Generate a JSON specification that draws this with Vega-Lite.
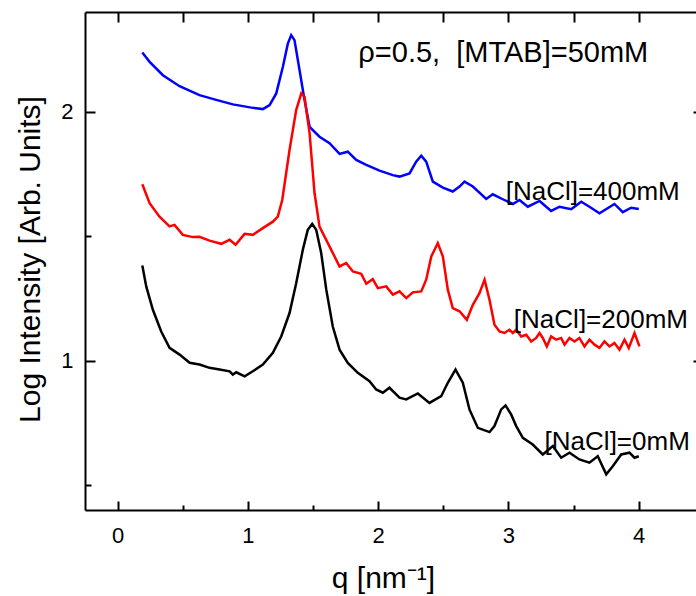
{
  "$schema": "https://vega.github.io/schema/vega-lite/v6.json",
  "width": 611,
  "height": 498,
  "autosize": "none",
  "padding": {"left": 85, "top": 12, "right": 0, "bottom": 86},
  "background": "white",
  "config": {
    "view": {"stroke": null},
    "axis": {
      "grid": false,
      "domainColor": "black",
      "domainWidth": 2,
      "tickColor": "black",
      "tickWidth": 2,
      "labelFont": "Liberation Sans",
      "labelFontSize": 22,
      "labelColor": "black",
      "titleFont": "Liberation Sans",
      "titleFontSize": 30,
      "titleFontWeight": "normal",
      "titleColor": "black"
    }
  },
  "datasets": {
    "curves": [
      {"s":"400","q":0.19,"I":2.237},{"s":"400","q":0.246,"I":2.2},{"s":"400","q":0.348,"I":2.146},{"s":"400","q":0.476,"I":2.102},{"s":"400","q":0.629,"I":2.066},{"s":"400","q":0.757,"I":2.047},{"s":"400","q":0.885,"I":2.029},{"s":"400","q":0.962,"I":2.022},{"s":"400","q":1.038,"I":2.015},{"s":"400","q":1.115,"I":2.01},{"s":"400","q":1.167,"I":2.026},{"s":"400","q":1.218,"I":2.073},{"s":"400","q":1.269,"I":2.18},{"s":"400","q":1.307,"I":2.273},{"s":"400","q":1.333,"I":2.307},{"s":"400","q":1.358,"I":2.287},{"s":"400","q":1.397,"I":2.166},{"s":"400","q":1.435,"I":2.047},{"s":"400","q":1.474,"I":1.939},{"s":"400","q":1.55,"I":1.899},{"s":"400","q":1.627,"I":1.873},{"s":"400","q":1.704,"I":1.83},{"s":"400","q":1.767,"I":1.839},{"s":"400","q":1.832,"I":1.806},{"s":"400","q":1.909,"I":1.786},{"s":"400","q":2.011,"I":1.763},{"s":"400","q":2.113,"I":1.745},{"s":"400","q":2.164,"I":1.739},{"s":"400","q":2.241,"I":1.752},{"s":"400","q":2.292,"I":1.799},{"s":"400","q":2.331,"I":1.823},{"s":"400","q":2.369,"I":1.799},{"s":"400","q":2.42,"I":1.719},{"s":"400","q":2.497,"I":1.695},{"s":"400","q":2.573,"I":1.679},{"s":"400","q":2.625,"I":1.699},{"s":"400","q":2.663,"I":1.719},{"s":"400","q":2.727,"I":1.699},{"s":"400","q":2.83,"I":1.649},{"s":"400","q":2.88,"I":1.668},{"s":"400","q":2.957,"I":1.648},{"s":"400","q":3.034,"I":1.629},{"s":"400","q":3.085,"I":1.645},{"s":"400","q":3.149,"I":1.618},{"s":"400","q":3.239,"I":1.641},{"s":"400","q":3.328,"I":1.601},{"s":"400","q":3.392,"I":1.618},{"s":"400","q":3.482,"I":1.608},{"s":"400","q":3.559,"I":1.638},{"s":"400","q":3.622,"I":1.618},{"s":"400","q":3.699,"I":1.592},{"s":"400","q":3.814,"I":1.629},{"s":"400","q":3.878,"I":1.596},{"s":"400","q":3.942,"I":1.614},{"s":"400","q":4.001,"I":1.609},
      {"s":"200","q":0.19,"I":1.708},{"s":"200","q":0.246,"I":1.632},{"s":"200","q":0.322,"I":1.578},{"s":"200","q":0.399,"I":1.539},{"s":"200","q":0.437,"I":1.545},{"s":"200","q":0.501,"I":1.505},{"s":"200","q":0.578,"I":1.496},{"s":"200","q":0.629,"I":1.497},{"s":"200","q":0.706,"I":1.482},{"s":"200","q":0.796,"I":1.469},{"s":"200","q":0.86,"I":1.485},{"s":"200","q":0.906,"I":1.465},{"s":"200","q":0.975,"I":1.509},{"s":"200","q":1.038,"I":1.505},{"s":"200","q":1.115,"I":1.532},{"s":"200","q":1.192,"I":1.558},{"s":"200","q":1.23,"I":1.578},{"s":"200","q":1.264,"I":1.645},{"s":"200","q":1.32,"I":1.846},{"s":"200","q":1.371,"I":2.006},{"s":"200","q":1.41,"I":2.073},{"s":"200","q":1.435,"I":2.059},{"s":"200","q":1.474,"I":1.913},{"s":"200","q":1.512,"I":1.672},{"s":"200","q":1.52,"I":1.645},{"s":"200","q":1.55,"I":1.538},{"s":"200","q":1.614,"I":1.472},{"s":"200","q":1.704,"I":1.378},{"s":"200","q":1.755,"I":1.392},{"s":"200","q":1.806,"I":1.358},{"s":"200","q":1.87,"I":1.349},{"s":"200","q":1.909,"I":1.309},{"s":"200","q":1.959,"I":1.327},{"s":"200","q":1.998,"I":1.291},{"s":"200","q":2.062,"I":1.298},{"s":"200","q":2.113,"I":1.265},{"s":"200","q":2.164,"I":1.278},{"s":"200","q":2.216,"I":1.251},{"s":"200","q":2.266,"I":1.274},{"s":"200","q":2.331,"I":1.278},{"s":"200","q":2.369,"I":1.325},{"s":"200","q":2.408,"I":1.418},{"s":"200","q":2.458,"I":1.472},{"s":"200","q":2.497,"I":1.418},{"s":"200","q":2.535,"I":1.285},{"s":"200","q":2.573,"I":1.211},{"s":"200","q":2.625,"I":1.198},{"s":"200","q":2.681,"I":1.164},{"s":"200","q":2.727,"I":1.224},{"s":"200","q":2.778,"I":1.271},{"s":"200","q":2.817,"I":1.325},{"s":"200","q":2.855,"I":1.244},{"s":"200","q":2.893,"I":1.144},{"s":"200","q":2.932,"I":1.117},{"s":"200","q":2.97,"I":1.111},{"s":"200","q":3.008,"I":1.124},{"s":"200","q":3.034,"I":1.111},{"s":"200","q":3.06,"I":1.124},{"s":"200","q":3.098,"I":1.097},{"s":"200","q":3.137,"I":1.104},{"s":"200","q":3.175,"I":1.077},{"s":"200","q":3.213,"I":1.091},{"s":"200","q":3.239,"I":1.111},{"s":"200","q":3.264,"I":1.091},{"s":"200","q":3.295,"I":1.057},{"s":"200","q":3.328,"I":1.097},{"s":"200","q":3.367,"I":1.084},{"s":"200","q":3.405,"I":1.091},{"s":"200","q":3.431,"I":1.064},{"s":"200","q":3.469,"I":1.091},{"s":"200","q":3.507,"I":1.077},{"s":"200","q":3.545,"I":1.091},{"s":"200","q":3.584,"I":1.057},{"s":"200","q":3.622,"I":1.084},{"s":"200","q":3.661,"I":1.064},{"s":"200","q":3.699,"I":1.051},{"s":"200","q":3.737,"I":1.077},{"s":"200","q":3.776,"I":1.057},{"s":"200","q":3.814,"I":1.071},{"s":"200","q":3.853,"I":1.044},{"s":"200","q":3.891,"I":1.084},{"s":"200","q":3.924,"I":1.051},{"s":"200","q":3.968,"I":1.111},{"s":"200","q":4.006,"I":1.057},
      {"s":"0","q":0.19,"I":1.382},{"s":"0","q":0.22,"I":1.298},{"s":"0","q":0.271,"I":1.204},{"s":"0","q":0.335,"I":1.117},{"s":"0","q":0.399,"I":1.051},{"s":"0","q":0.476,"I":1.024},{"s":"0","q":0.553,"I":0.991},{"s":"0","q":0.629,"I":0.984},{"s":"0","q":0.706,"I":0.971},{"s":"0","q":0.783,"I":0.964},{"s":"0","q":0.86,"I":0.957},{"s":"0","q":0.885,"I":0.944},{"s":"0","q":0.911,"I":0.953},{"s":"0","q":0.975,"I":0.937},{"s":"0","q":1.038,"I":0.957},{"s":"0","q":1.115,"I":0.984},{"s":"0","q":1.192,"I":1.031},{"s":"0","q":1.256,"I":1.097},{"s":"0","q":1.32,"I":1.191},{"s":"0","q":1.371,"I":1.311},{"s":"0","q":1.422,"I":1.445},{"s":"0","q":1.46,"I":1.525},{"s":"0","q":1.494,"I":1.549},{"s":"0","q":1.525,"I":1.525},{"s":"0","q":1.563,"I":1.432},{"s":"0","q":1.602,"I":1.285},{"s":"0","q":1.652,"I":1.137},{"s":"0","q":1.704,"I":1.044},{"s":"0","q":1.767,"I":0.991},{"s":"0","q":1.844,"I":0.951},{"s":"0","q":1.934,"I":0.917},{"s":"0","q":1.985,"I":0.884},{"s":"0","q":2.036,"I":0.871},{"s":"0","q":2.087,"I":0.891},{"s":"0","q":2.164,"I":0.851},{"s":"0","q":2.216,"I":0.844},{"s":"0","q":2.305,"I":0.868},{"s":"0","q":2.394,"I":0.83},{"s":"0","q":2.484,"I":0.857},{"s":"0","q":2.535,"I":0.911},{"s":"0","q":2.594,"I":0.964},{"s":"0","q":2.65,"I":0.911},{"s":"0","q":2.701,"I":0.804},{"s":"0","q":2.765,"I":0.73},{"s":"0","q":2.855,"I":0.713},{"s":"0","q":2.893,"I":0.737},{"s":"0","q":2.945,"I":0.804},{"s":"0","q":2.978,"I":0.82},{"s":"0","q":3.021,"I":0.784},{"s":"0","q":3.06,"I":0.737},{"s":"0","q":3.111,"I":0.69},{"s":"0","q":3.187,"I":0.663},{"s":"0","q":3.264,"I":0.623},{"s":"0","q":3.341,"I":0.657},{"s":"0","q":3.405,"I":0.61},{"s":"0","q":3.469,"I":0.63},{"s":"0","q":3.545,"I":0.603},{"s":"0","q":3.622,"I":0.59},{"s":"0","q":3.686,"I":0.616},{"s":"0","q":3.751,"I":0.543},{"s":"0","q":3.801,"I":0.576},{"s":"0","q":3.866,"I":0.623},{"s":"0","q":3.929,"I":0.63},{"s":"0","q":3.968,"I":0.61},{"s":"0","q":4.001,"I":0.616}
    ],
    "salt": [
      {"q":2.979,"I":1.645,"label":"[NaCl]=400mM"},
      {"q":3.042,"I":1.131,"label":"[NaCl]=200mM"},
      {"q":3.278,"I":0.641,"label":"[NaCl]=0mM"}
    ],
    "cond": [
      {"q":1.848,"I":2.199,"label":"ρ=0.5,\u00a0 [MTAB]=50mM"}
    ]
  },
  "layer": [
    {
      "data": {"name": "curves"},
      "mark": {"type": "line", "strokeWidth": 2.5, "interpolate": "linear"},
      "encoding": {
        "x": {
          "field": "q", "type": "quantitative",
          "scale": {"domain": [-0.25, 4.44], "nice": false, "zero": false},
          "axis": {
            "orient": "bottom",
            "values": [0, 1, 2, 3, 4],
            "format": "d",
            "tickSize": -9,
            "labelPadding": 24,
            "title": "q [nm⁻¹]",
            "titleX": 298,
            "titleY": 77,
            "titleAlign": "center",
            "titleBaseline": "alphabetic"
          }
        },
        "y": {
          "field": "I", "type": "quantitative",
          "scale": {"domain": [0.4, 2.4], "nice": false, "zero": false},
          "axis": {
            "orient": "left",
            "values": [1, 2],
            "format": "d",
            "tickSize": -10,
            "labelPadding": 22,
            "title": "Log Intensity [Arb. Units]",
            "titleX": -45.5,
            "titleY": 247,
            "titleAngle": -90,
            "titleAlign": "center",
            "titleBaseline": "alphabetic"
          }
        },
        "color": {
          "field": "s", "type": "nominal",
          "scale": {"domain": ["400", "200", "0"], "range": ["#0000ff", "#ff0000", "#000000"]},
          "legend": null
        }
      }
    },
    {
      "data": {"name": "curves"},
      "mark": {"type": "line", "opacity": 0},
      "encoding": {
        "x": {
          "field": "q", "type": "quantitative",
          "axis": {"orient": "top", "values": [0, 0.5, 1, 1.5, 2, 2.5, 3, 3.5, 4], "labels": false, "tickSize": -10, "title": null}
        },
        "y": {
          "field": "I", "type": "quantitative",
          "axis": {"orient": "right", "values": [1, 2], "labels": false, "domain": false, "tickSize": -3, "title": null}
        },
        "detail": {"field": "s"}
      }
    },
    {
      "data": {"name": "curves"},
      "mark": {"type": "line", "opacity": 0},
      "encoding": {
        "x": {
          "field": "q", "type": "quantitative",
          "axis": {"orient": "bottom", "values": [0.5, 1.5, 2.5, 3.5], "labels": false, "domain": false, "tickSize": -5, "title": null}
        },
        "y": {
          "field": "I", "type": "quantitative",
          "axis": {"orient": "left", "values": [0.5, 1.5], "labels": false, "domain": false, "tickSize": -6, "title": null}
        },
        "detail": {"field": "s"}
      }
    },
    {
      "data": {"name": "salt"},
      "mark": {"type": "text", "align": "left", "baseline": "alphabetic", "font": "Liberation Sans", "fontSize": 26, "color": "black"},
      "encoding": {
        "x": {"field": "q", "type": "quantitative", "axis": null},
        "y": {"field": "I", "type": "quantitative", "axis": null},
        "text": {"field": "label"}
      }
    },
    {
      "data": {"name": "cond"},
      "mark": {"type": "text", "align": "left", "baseline": "alphabetic", "font": "Liberation Sans", "fontSize": 29, "color": "black"},
      "encoding": {
        "x": {"field": "q", "type": "quantitative", "axis": null},
        "y": {"field": "I", "type": "quantitative", "axis": null},
        "text": {"field": "label"}
      }
    }
  ],
  "resolve": {"axis": {"x": "independent", "y": "independent"}}
}
